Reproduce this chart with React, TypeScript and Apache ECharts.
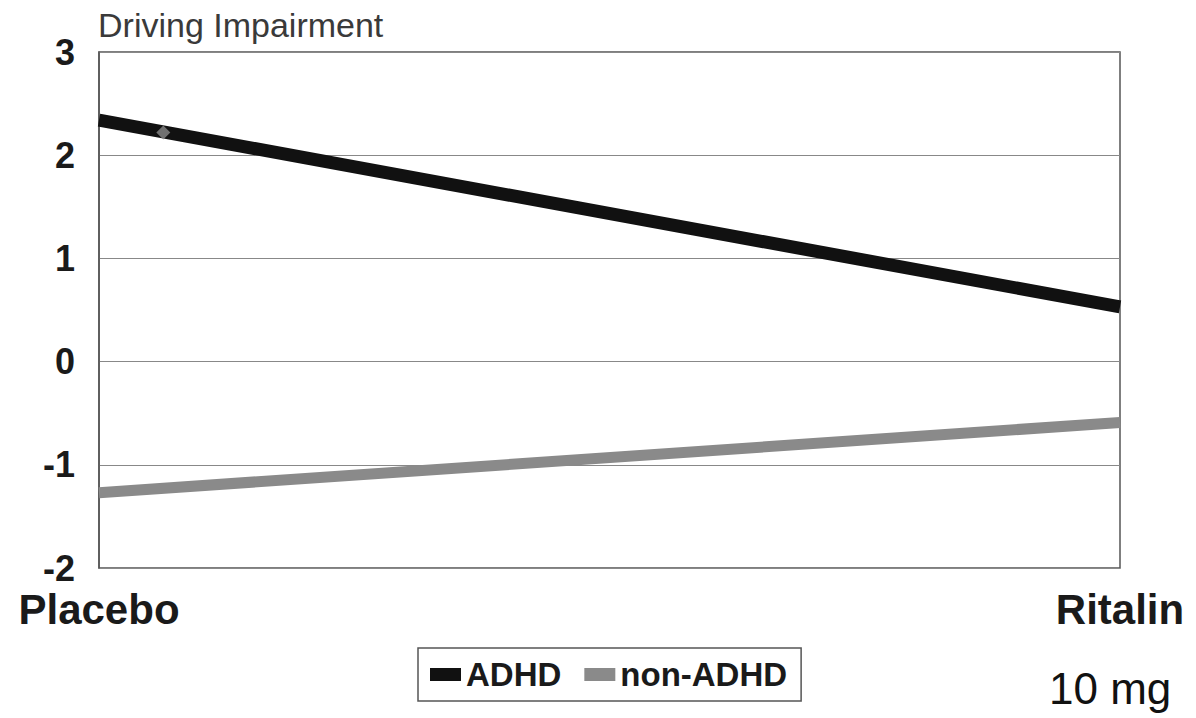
import React, { useEffect, useRef } from "react";
import * as echarts from "echarts";

const categories = ["Placebo", "Ritalin"];
const adhd = [2.34, 0.53];
const nonAdhd = [-1.27, -0.59];
const strayMarker = [[0.063, 2.22]];
const yTicks = { min: -2, max: 3, interval: 1 };

export default function App() {
  const ref = useRef<HTMLDivElement>(null);
  useEffect(() => {
    const chart = echarts.init(ref.current!, null, { renderer: "svg" });
    const font = "Liberation Sans, Arial, sans-serif";
    chart.setOption({
      animation: false,
      backgroundColor: "#fff",
      textStyle: { fontFamily: font },
      grid: {
        left: 99,
        top: 52,
        right: 76,
        height: 516,
        show: true,
        borderColor: "#555",
        borderWidth: 1.5,
      },
      graphic: [
        {
          type: "text",
          x: 98,
          y: 25,
          style: {
            text: "Driving Impairment",
            font: `34px ${font}`,
            fill: "#3a3a3a",
            verticalAlign: "middle",
          },
        },
        {
          type: "text",
          x: 1049,
          y: 688,
          style: {
            text: "10 mg",
            font: `44px ${font}`,
            fill: "#111",
            verticalAlign: "middle",
          },
        },
      ],
      legend: {
        left: 418,
        top: 648,
        padding: [10, 14, 10, 12],
        itemGap: 23,
        itemWidth: 31,
        itemHeight: 13,
        borderColor: "#555",
        borderWidth: 1.5,
        icon: "rect",
        textStyle: { fontSize: 33, fontWeight: "bold", color: "#1a1a1a", fontFamily: font },
        data: ["ADHD", "non-ADHD"],
      },
      xAxis: [
        {
          type: "category",
          data: categories,
          boundaryGap: false,
          axisLine: { show: false },
          axisTick: { show: false },
          axisLabel: { fontSize: 42, fontWeight: "bold", color: "#1a1a1a", margin: 20 },
        },
        { type: "value", min: 0, max: 1, show: false },
      ],
      yAxis: {
        type: "value",
        ...yTicks,
        axisLine: { show: true, lineStyle: { color: "#555", width: 1.5 } },
        axisTick: { show: false },
        axisLabel: { fontSize: 36, fontWeight: "bold", color: "#1a1a1a", margin: 24 },
        splitLine: { lineStyle: { color: "#888", width: 1.2 } },
      },
      series: [
        {
          name: "ADHD",
          type: "line",
          data: adhd,
          symbol: "none",
          lineStyle: { color: "#111", width: 13 },
          itemStyle: { color: "#111" },
        },
        {
          name: "non-ADHD",
          type: "line",
          data: nonAdhd,
          symbol: "none",
          lineStyle: { color: "#8a8a8a", width: 11 },
          itemStyle: { color: "#8a8a8a" },
        },
        {
          name: "marker",
          type: "scatter",
          xAxisIndex: 1,
          data: strayMarker,
          symbol: "diamond",
          symbolSize: 14,
          itemStyle: { color: "#888" },
          z: 5,
        },
      ],
    });
    return () => chart.dispose();
  }, []);
  return (
    <div
      ref={ref}
      style={{ position: "absolute", left: 0, top: 0, width: 1196, height: 718 }}
    />
  );
}
